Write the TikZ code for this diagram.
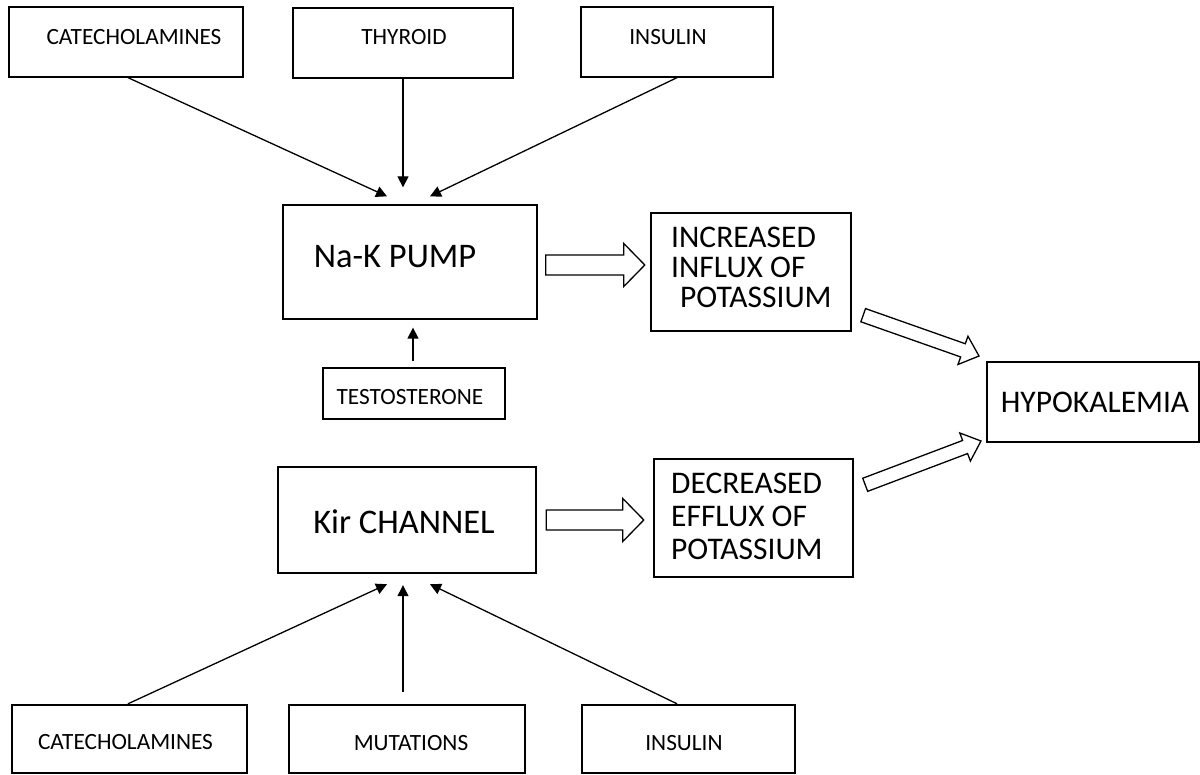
\documentclass[tikz,border=0pt]{standalone}
\usepackage{fontspec}
\setmainfont{Carlito}
\usetikzlibrary{arrows.meta,calc}
\newcommand{\hollowarrow}[5]{%
  \coordinate (ha-a) at (#1);
  \coordinate (ha-b) at (#2);
  \coordinate (ha-c) at ($(ha-b)!#5!(ha-a)$);
  \draw[blockarr] ($(ha-a)!#3!90:(ha-b)$) -- ($(ha-c)!#3!-90:(ha-a)$) -- ($(ha-c)!#4!-90:(ha-a)$) -- (ha-b) -- ($(ha-c)!#4!90:(ha-a)$) -- ($(ha-c)!#3!90:(ha-a)$) -- ($(ha-a)!#3!-90:(ha-b)$) -- cycle;}
\tikzset{
  thinbox/.style={draw, line width=1.3pt, inner sep=0pt},
  thickbox/.style={draw, line width=2.4pt, inner sep=0pt},
  smalltxt/.style={inner sep=0pt, font=\fontsize{23.3}{27}\selectfont},
  bigtxt/.style={inner sep=0pt, font=\fontsize{34.5}{40}\selectfont},
  midtxt/.style={inner sep=0pt, font=\fontsize{31.5}{33}\selectfont, align=left, anchor=west},
  arr/.style={line width=1.3pt, -{Triangle[length=11pt,width=11pt]}},
  blockarr/.style={line width=1.3pt, fill=white, line join=miter}
}
\begin{document}
\begin{tikzpicture}[x=1pt, y=-1pt]
\useasboundingbox (0,0) rectangle (1200,775);
% boxes
\node[thinbox, minimum width=234pt, minimum height=70pt] (catT) at (126,42) {};
\node[thinbox, minimum width=220pt, minimum height=70pt] (thyT) at (403,43) {};
\node[thinbox, minimum width=192pt, minimum height=70pt] (insT) at (677,42) {};
\node[thinbox, minimum width=254pt, minimum height=114pt] (nak) at (410,262) {};
\node[thinbox, line width=1.6pt, minimum width=182pt, minimum height=51pt] (tes) at (414,393.5) {};
\node[thickbox, minimum width=200pt, minimum height=118pt] (inc) at (751,272) {};
\node[thickbox, line width=2pt, minimum width=212pt, minimum height=80pt] (hyp) at (1093,402) {};
\node[thickbox, minimum width=258pt, minimum height=106pt] (kir) at (407,520) {};
\node[thickbox, minimum width=199pt, minimum height=118pt] (dec) at (753.5,518) {};
\node[thickbox, minimum width=235pt, minimum height=68pt] (catB) at (129.5,739) {};
\node[thickbox, minimum width=236pt, minimum height=68pt] (mut) at (407,739) {};
\node[thickbox, minimum width=213pt, minimum height=68pt] (insB) at (688.5,739) {};
% texts
\node[smalltxt] (catTt) at (134,37) {CATECHOLAMINES};
\node[smalltxt] (thyTt) at (404,37) {THYROID};
\node[smalltxt] (insTt) at (668,37) {INSULIN};
\node[bigtxt] (nakt) at (395,257) {Na-K PUMP};
\node[smalltxt] (test) at (410,397) {TESTOSTERONE};
\node[midtxt, font=\fontsize{31.5}{30}\selectfont] (inct) at (671,267) {INCREASED\\INFLUX OF\\\hspace*{9pt}POTASSIUM};
\node[midtxt, anchor=center] (hypt) at (1095,402) {HYPOKALEMIA};
\node[bigtxt] (kirt) at (404,522) {Kir CHANNEL};
\node[midtxt] (dect) at (671,516.5) {DECREASED\\EFFLUX OF\\POTASSIUM};
\node[smalltxt] (catBt) at (125.5,742) {CATECHOLAMINES};
\node[smalltxt] (mutt) at (411,743) {MUTATIONS};
\node[smalltxt] (insBt) at (684,743) {INSULIN};
% thin arrows
\draw[arr] ([xshift=2pt]catT.south) -- ([shift={(-23pt,8pt)}]nak.north);
\draw[arr] (thyT.south) -- ([shift={(-7pt,17pt)}]nak.north);
\draw[arr] (insT.south) -- ([shift={(20pt,8pt)}]nak.north);
\draw[arr] ([shift={(-1pt,6pt)}]tes.north) -- ([shift={(3pt,-8pt)}]nak.south);
\draw[arr] ([xshift=-1.5pt]catB.north) -- ([shift={(-20pt,-10pt)}]kir.south);
\draw[arr] ([shift={(-4pt,12pt)}]mut.north) -- ([shift={(-4pt,-11pt)}]kir.south);
\draw[arr] ([xshift=-11.5pt]insB.north) -- ([shift={(23pt,-10pt)}]kir.south);
% block arrows
\hollowarrow{[shift={(8pt,-3pt)}]nak.east}{[shift={(-5pt,7pt)}]inc.west}{10pt}{21.5pt}{21pt}
\hollowarrow{[xshift=9pt]kir.east}{[shift={(-9pt,-2pt)}]dec.west}{10pt}{21.5pt}{21pt}
\hollowarrow{[shift={(11pt,17pt)}]inc.south east}{[shift={(-7pt,5pt)}]hyp.north west}{7pt}{15pt}{17pt}
\hollowarrow{[shift={(11pt,-27pt)}]dec.north east}{[shift={(-5pt,2pt)}]hyp.south west}{7pt}{15pt}{17pt}
\end{tikzpicture}
\end{document}
